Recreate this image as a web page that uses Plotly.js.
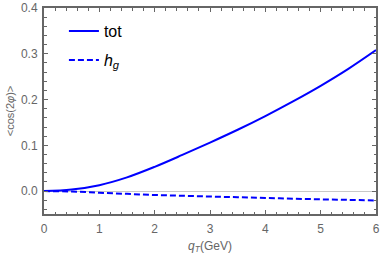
<!DOCTYPE html>
<html><head><meta charset="utf-8">
<script src="https://cdn.plot.ly/plotly-3.0.1.min.js"></script>
<style>body{margin:0;background:#fff}#c{width:382px;height:258px}</style>
</head><body><div id="c"></div>
<script>
const qT = [0, 0.5, 1, 1.5, 2, 2.5, 3, 3.5, 4, 4.5, 5, 5.5, 6];
const tot = [0, 0.0035, 0.013, 0.030, 0.053, 0.079, 0.106, 0.134, 0.164, 0.196, 0.230, 0.267, 0.308];
const hg = [0, -0.001, -0.0035, -0.006, -0.0085, -0.0102, -0.0118, -0.0134, -0.015, -0.0165, -0.018, -0.0192, -0.0205];
const names = ['tot', '<i>h</i><sub><i>g</i></sub>'];

const gray = '#666666';
const traces = [
  {x: qT, y: tot, name: names[0], mode: 'lines', line: {color: '#0000ff', width: 2, shape: 'spline'}, legendgroup: 'a'},
  {x: qT, y: hg, name: names[1], mode: 'lines', line: {color: '#0000ff', width: 2, dash: '6px,3px', shape: 'spline'}, legendgroup: 'b'}
];
const axCommon = {
  showline: true, linecolor: gray, linewidth: 2, mirror: 'ticks',
  ticks: 'inside', ticklen: 4, tickwidth: 1, tickcolor: gray,
  showgrid: false, tickfont: {family: 'Liberation Sans, Arial, sans-serif', size: 12, color: gray}
};
const layout = {
  width: 382, height: 258,
  margin: {l: 44, r: 6, t: 8, b: 44},
  paper_bgcolor: '#fff', plot_bgcolor: '#fff',
  showlegend: true,
  legend: {x: 0.06, y: 0.97, xanchor: 'left', yanchor: 'top', font: {family: 'Liberation Sans, Arial, sans-serif', size: 16, color: '#000'}, tracegroupgap: 5, bgcolor: 'rgba(0,0,0,0)'},
  xaxis: Object.assign({}, axCommon, {
    range: [0, 6], dtick: 1, tick0: 0, zeroline: false, ticklabelstandoff: 3,
    minor: {dtick: 0.2, ticks: 'inside', ticklen: 2.5, tickcolor: gray, showgrid: false},
    title: {text: '<i>q</i><sub><i>T</i></sub>(GeV)', font: {family: 'Liberation Sans, Arial, sans-serif', size: 12, color: gray}, standoff: 6}
  }),
  yaxis: Object.assign({}, axCommon, {
    range: [-0.05, 0.4], dtick: 0.1, tick0: 0, tickformat: '.1f', ticklabelstandoff: 2,
    zeroline: true, zerolinecolor: '#c8c8c8', zerolinewidth: 1,
    minor: {dtick: 0.02, ticks: 'inside', ticklen: 2.5, tickcolor: gray, showgrid: false},
    title: {text: '&lt;cos(2<i>φ</i>)&gt;', font: {family: 'Liberation Sans, Arial, sans-serif', size: 11, color: gray}, standoff: 4}
  })
};
Plotly.newPlot('c', traces, layout, {displayModeBar: false, staticPlot: true});
</script></body></html>
